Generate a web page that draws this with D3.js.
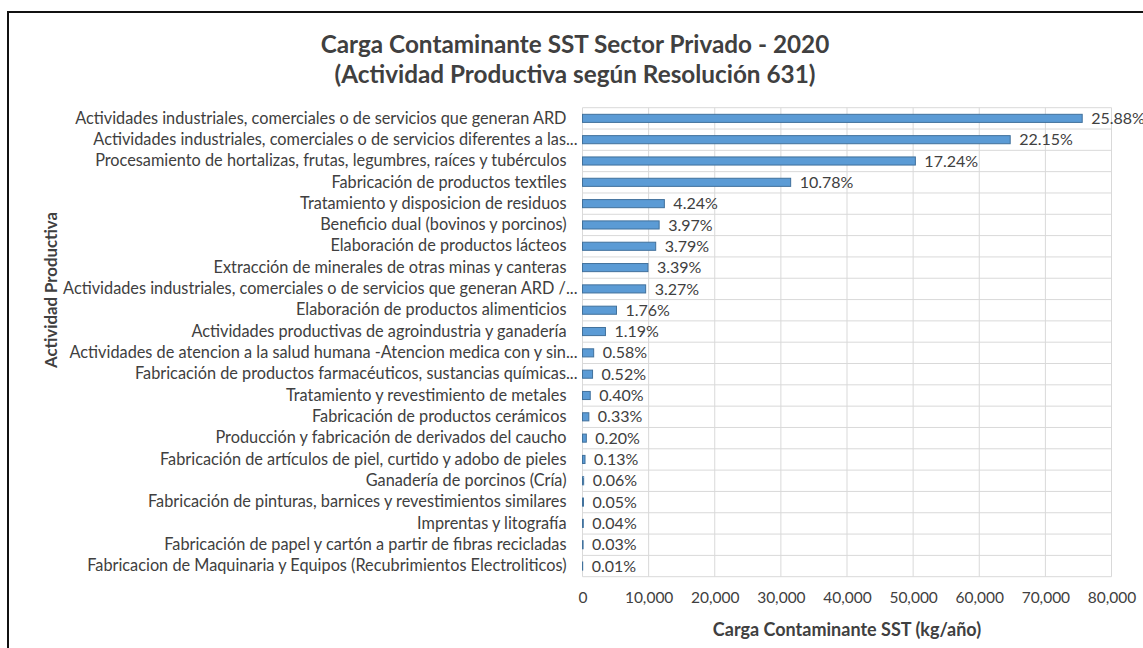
<!DOCTYPE html>
<html>
<head>
<meta charset="utf-8">
<script src="https://cdn.jsdelivr.net/npm/d3@7"></script>
<style>
  body { margin: 0; background: #fff; }
  text { font-family: Lato, "Open Sans", sans-serif; fill: #404040; }
</style>
</head>
<body>
<script>
// chart size (same as window)
var width = 1143;
var height = 648;

// data
var categories = [
    "Actividades industriales, comerciales o de servicios que generan ARD",
    "Actividades industriales, comerciales o de servicios diferentes a las...",
    "Procesamiento de hortalizas, frutas, legumbres, raíces y tubérculos",
    "Fabricación de productos textiles",
    "Tratamiento y disposicion de residuos",
    "Beneficio dual (bovinos y porcinos)",
    "Elaboración de productos lácteos",
    "Extracción de minerales de otras minas y canteras",
    "Actividades industriales, comerciales o de servicios que generan ARD /...",
    "Elaboración de productos alimenticios",
    "Actividades productivas de agroindustria y ganadería",
    "Actividades de atencion a la salud humana -Atencion medica con y sin...",
    "Fabricación de productos farmacéuticos, sustancias químicas...",
    "Tratamiento y revestimiento de metales",
    "Fabricación de productos cerámicos",
    "Producción y fabricación de derivados del caucho",
    "Fabricación de artículos de piel, curtido y adobo de pieles",
    "Ganadería de porcinos (Cría)",
    "Fabricación de pinturas, barnices y revestimientos similares",
    "Imprentas y litografía",
    "Fabricación de papel y cartón a partir de fibras recicladas",
    "Fabricacion de Maquinaria y Equipos (Recubrimientos Electroliticos)"
];

// carga contaminante SST (kg/año)
var carga = [75570, 64680, 50340, 31480, 12380, 11590, 11070, 9900, 9550, 5140, 3470,
             1690, 1520, 1170, 960, 580, 380, 175, 146, 117, 88, 29];

// percentage labels shown next to each bar
var porcentajes = ["25.88%", "22.15%", "17.24%", "10.78%", "4.24%", "3.97%", "3.79%", "3.39%",
                   "3.27%", "1.76%", "1.19%", "0.58%", "0.52%", "0.40%", "0.33%", "0.20%",
                   "0.13%", "0.06%", "0.05%", "0.04%", "0.03%", "0.01%"];

var xTicks = [0, 10000, 20000, 30000, 40000, 50000, 60000, 70000, 80000];

var chartTitle = ["Carga Contaminante SST Sector Privado - 2020", "(Actividad Productiva según Resolución 631)"];
var xTitle = "Carga Contaminante SST (kg/año)";
var yTitle = "Actividad Productiva";

// plot area
var plot = { left: 582.5, right: 1111.5, top: 107.7, bottom: 576.7 };

var svg = d3.select("body")
    .append("svg")
    .attr("width", width)
    .attr("height", height);

// outer frame (runs off the right and bottom edges)
svg.append("rect")
    .attr("x", 8)
    .attr("y", 12)
    .attr("width", 1200)
    .attr("height", 700)
    .style("fill", "none")
    .style("stroke", "#111")
    .style("stroke-width", 2);

var x = d3.scaleLinear()
    .domain([0, 80000])
    .range([plot.left, plot.right]);

var y = d3.scaleBand()
    .domain(categories)
    .range([plot.top, plot.bottom])
    .paddingInner(0.62)
    .paddingOuter(0.31);

// horizontal grid lines between categories
var step = y.step();
var hLines = d3.range(categories.length + 1);
svg.append("g")
    .selectAll("line")
    .data(hLines)
    .enter()
    .append("line")
    .attr("x1", plot.left)
    .attr("x2", plot.right)
    .attr("y1", function (d) { return plot.top + d * step; })
    .attr("y2", function (d) { return plot.top + d * step; })
    .style("stroke", "#d9d9d9")
    .style("stroke-width", 1);

// vertical grid lines
svg.append("g")
    .selectAll("line")
    .data(xTicks)
    .enter()
    .append("line")
    .attr("x1", function (d) { return x(d); })
    .attr("x2", function (d) { return x(d); })
    .attr("y1", plot.top)
    .attr("y2", plot.bottom)
    .style("stroke", "#d9d9d9")
    .style("stroke-width", 1);

// bars
svg.append("g")
    .selectAll("rect")
    .data(carga)
    .enter()
    .append("rect")
    .attr("x", x(0))
    .attr("y", function (d, i) { return y(categories[i]); })
    .attr("width", function (d) { return x(d) - x(0); })
    .attr("height", y.bandwidth())
    .style("fill", "#5b9bd5")
    .style("stroke", "#41719c")
    .style("stroke-width", 1);

// percentage labels
svg.append("g")
    .selectAll("text")
    .data(carga)
    .enter()
    .append("text")
    .attr("x", function (d) { return x(d) + 9; })
    .attr("y", function (d, i) { return y(categories[i]) + y.bandwidth() / 2; })
    .attr("dy", "0.35em")
    .attr("font-size", 16)
    .text(function (d, i) { return porcentajes[i]; });

// category axis
var yAxis = d3.axisLeft(y).tickSize(0).tickPadding(16);
var gy = svg.append("g")
    .attr("transform", "translate(" + plot.left + ",0)")
    .call(yAxis);
gy.select(".domain").remove();
gy.selectAll("text")
    .attr("font-size", 16.3)
    .style("font-family", "Lato, sans-serif")
    .attr("fill", "#404040")
    // truncated labels sit a bit further right, as in Excel
    .attr("dx", function (d) { return d.slice(-3) == "..." ? 11 : 0; });

// value axis
var xAxis = d3.axisBottom(x).tickValues(xTicks).tickFormat(d3.format(",")).tickSize(0).tickPadding(15);
var gx = svg.append("g")
    .attr("transform", "translate(0," + plot.bottom + ")")
    .call(xAxis);
gx.select(".domain").remove();
gx.selectAll("text")
    .attr("font-size", 15.5)
    .style("font-family", "Lato, sans-serif")
    .attr("fill", "#404040");

// titles
svg.selectAll(".title")
    .data(chartTitle)
    .enter()
    .append("text")
    .attr("class", "title")
    .attr("x", 575)
    .attr("y", function (d, i) { return 53 + i * 30; })
    .attr("text-anchor", "middle")
    .attr("font-size", 24.3)
    .attr("font-weight", "bold")
    .text(function (d) { return d; });

svg.append("text")
    .attr("x", (plot.left + plot.right) / 2)
    .attr("y", 636)
    .attr("text-anchor", "middle")
    .attr("font-size", 18)
    .attr("font-weight", "bold")
    .text(xTitle);

svg.append("text")
    .attr("transform", "translate(57,290) rotate(-90)")
    .attr("text-anchor", "middle")
    .attr("font-size", 16.8)
    .attr("font-weight", "bold")
    .text(yTitle);
</script>
</body>
</html>
